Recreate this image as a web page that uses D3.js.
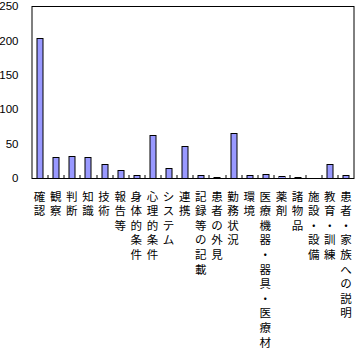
<!DOCTYPE html>
<html>
<head>
<meta charset="utf-8">
<script src="https://cdn.jsdelivr.net/npm/d3@7"></script>
<style>
  body { margin: 0; background: #fff; }
  svg { display: block; }
</style>
</head>
<body>
<svg id="chart"></svg>
<script>
// categories along the x axis, drawn as vertical stacks of characters
const categories = [
  '確認', '観察', '判断', '知識', '技術', '報告等', '身体的条件', '心理的条件',
  'システム', '連携', '記録等の記載', '患者の外見', '勤務状況', '環境',
  '医療機器・器具・医療材', '薬剤', '諸物品', '施設・設備', '教育・訓練',
  '患者・家族への説明'
];
const counts = [203, 31, 32, 31, 20, 12, 5, 62, 15, 47, 4, 1, 66, 4, 6, 3, 1, 0, 20, 4];
const yTicks = [0, 50, 100, 150, 200, 250];

const width = 356, height = 351;
const margin = { top: 6, right: 2, left: 31.5, bottom: 173 };
const plotW = width - margin.left - margin.right;
const plotH = height - margin.top - margin.bottom;

const svg = d3.select('#chart').attr('width', width).attr('height', height);
const g = svg.append('g').attr('transform', `translate(${margin.left},${margin.top})`);

const x = d3.scaleBand().domain(categories).range([0, plotW]).paddingInner(0).paddingOuter(0);
const y = d3.scaleLinear().domain([0, 250]).range([plotH, 0]);

const barW = x.bandwidth() * 0.37;

// bars
g.append('g').selectAll('rect')
  .data(categories.map((c, i) => ({ c, v: counts[i] })).filter(d => d.v > 0))
  .enter().append('rect')
  .attr('x', d => Math.round(x(d.c) + x.bandwidth() / 2 - barW / 2) + 0.5)
  .attr('y', d => Math.round(y(d.v)) + 0.5)
  .attr('width', Math.round(barW))
  .attr('height', d => Math.round(plotH) - Math.round(y(d.v)))
  .attr('fill', '#9999ff')
  .attr('stroke', '#000')
  .attr('stroke-width', 1);

// small inward ticks at category boundaries
g.append('g').selectAll('line')
  .data(categories.slice(1))
  .enter().append('line')
  .attr('x1', d => Math.round(x(d)) + 0.5).attr('x2', d => Math.round(x(d)) + 0.5)
  .attr('y1', plotH).attr('y2', plotH - 3)
  .attr('stroke', '#000');

// plot frame
g.append('rect')
  .attr('x', 0.5).attr('y', 0.5)
  .attr('width', Math.round(plotW) - 1).attr('height', Math.round(plotH))
  .attr('fill', 'none').attr('stroke', '#000').attr('stroke-width', 1);

// y tick labels
const yAxis = d3.axisLeft(y).tickValues(yTicks).tickSize(0).tickPadding(13);
g.append('g').call(yAxis)
  .call(a => a.select('.domain').remove())
  .selectAll('text')
  .attr('font-family', 'Liberation Sans, Arial, sans-serif')
  .attr('font-size', '11.5px')
  .attr('fill', '#000');

// vertical category labels
const labels = g.append('g').attr('transform', `translate(0,${plotH})`);
categories.forEach(c => {
  const cx = x(c) + x.bandwidth() / 2;
  Array.from(c).forEach((ch, j) => {
    labels.append('text')
      .attr('x', cx)
      .attr('y', 17.5 + j * 14.6)
      .attr('text-anchor', 'middle')
      .attr('dominant-baseline', 'central')
      .attr('font-family', 'Noto Sans CJK JP, sans-serif')
      .attr('font-size', '11.5px')
      .attr('fill', '#000')
      .text(ch);
  });
});
</script>
</body>
</html>
